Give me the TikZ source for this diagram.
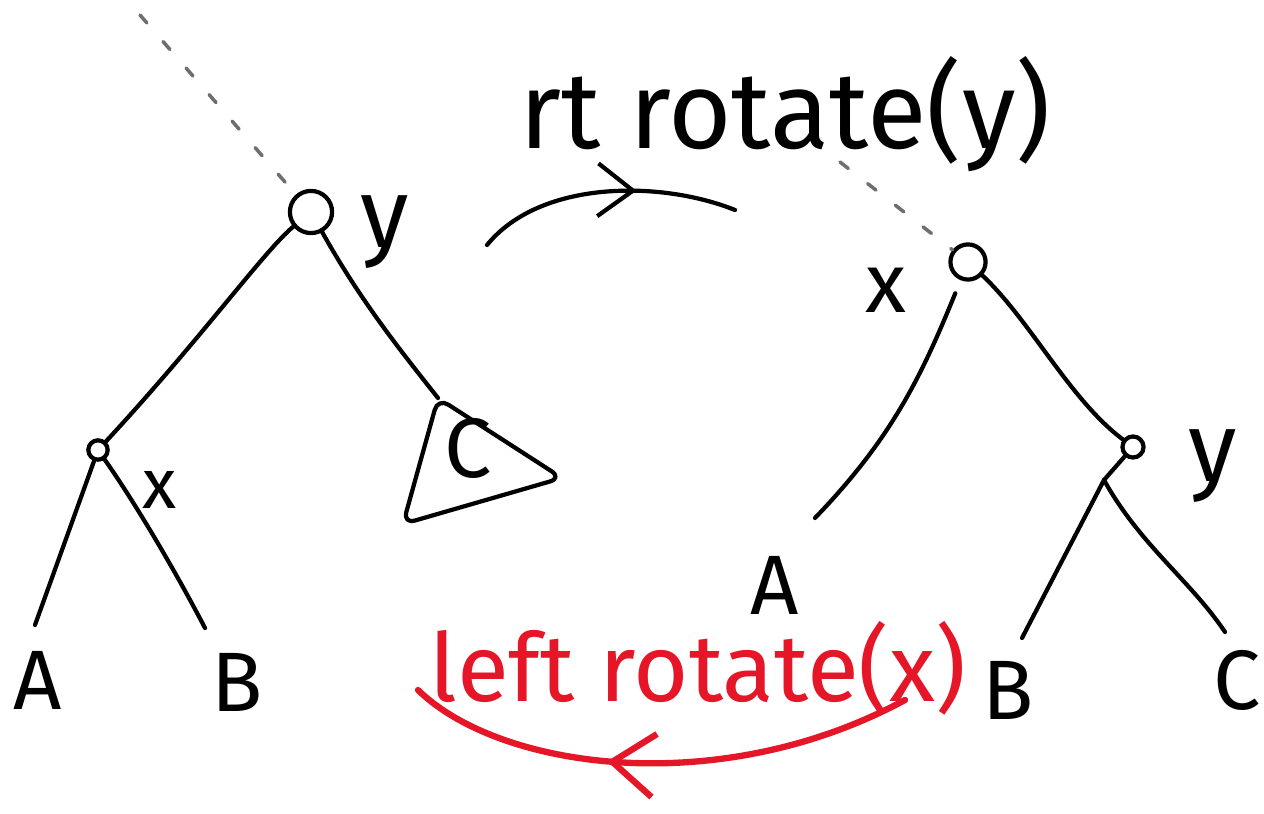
\documentclass[tikz,border=0pt]{standalone}
\usepackage{fontspec}
\setmainfont{Fira Sans}
\usetikzlibrary{arrows.meta,decorations.markings}
\definecolor{penred}{RGB}{228,22,40}
\definecolor{pengray}{RGB}{110,110,110}
\tikzset{
  ink/.style={line width=2.4pt, line cap=round, line join=round, black},
  redink/.style={line width=3.6pt, line cap=round, line join=round, penred},
  dots/.style={line width=2pt, pengray, dash pattern=on 6pt off 14pt, line cap=round},
  vtx/.style={draw, circle, line width=2.4pt, inner sep=0pt},
  bigvtx/.style={vtx, minimum size=24pt},
  smallvtx/.style={vtx, minimum size=11pt},
  leaf/.style={inner sep=0pt, font=\fontsize{48}{54}\selectfont},
  tag/.style={inner sep=0pt, font=\fontsize{56}{62}\selectfont},
  smalltag/.style={inner sep=0pt, font=\fontsize{40}{46}\selectfont},
  caption/.style={inner sep=0pt, font=\fontsize{62}{70}\selectfont},
  redcaption/.style={inner sep=0pt, text=penred, font=\fontsize{54}{60}\selectfont},
  barbfwd/.style={decoration={markings, mark=at position #1 with {\arrow[line width=2.4pt]{Straight Barb[length=20pt,width=30pt]}}}, postaction=decorate},
  barbback/.style={decoration={markings, mark=at position #1 with {\arrowreversed[line width=3.6pt]{Straight Barb[length=24pt,width=36pt]}}}, postaction=decorate}
}
\begin{document}
\begin{tikzpicture}[x=0.02cm, y=-0.02cm]
\useasboundingbox (0,0) rectangle (1264,814);

% ---------- tree before the rotation ----------
\coordinate (lparent) at (140,15);
\node[bigvtx] (ly) at (311,212) {};
\node[tag] (lylab) at (385,232) {y};
\node[smallvtx] (lx) at (98,450) {};
\node[smalltag] (lxlab) at (160,490) {x};
\coordinate (lAend) at (35,625);
\coordinate (lBend) at (205,628);
\node[leaf] (lA) at (38,680) {A};
\node[leaf] (lB) at (237,682) {B};
\coordinate (ltri) at (438,398);
\coordinate (ltriR) at (562,478);
\coordinate (ltriL) at (403,524);
\node[leaf] (lC) at (468,448) {C};

\draw[dots] (lparent) -- (ly);
\draw[ink] (ly) .. controls (265,250) and (200,340) .. (lx);
\draw[ink] (ly) .. controls (360,300) and (400,350) .. (ltri);
\draw[ink, rounded corners=7pt] (ltri) -- (ltriR) -- (ltriL) -- cycle;
\draw[ink] (lx) -- (lAend);
\draw[ink] (lx) .. controls (140,510) and (180,580) .. (lBend);

% ---------- right rotation arrow ----------
\node[caption] (rtcap) at (785,114) {rt rotate(y)};
\coordinate (rtstart) at (487,245);
\coordinate (rtend) at (735,210);
\draw[ink, barbfwd=0.62] (rtstart) .. controls (540,180) and (660,180) .. (rtend);

% ---------- tree after the rotation ----------
\coordinate (rparent) at (840,162);
\node[vtx, minimum size=20pt] (rx) at (968,262) {};
\node[tag, font=\fontsize{48}{54}\selectfont] (rxlab) at (886,290) {x};
\node[smallvtx, minimum size=12pt] (ry) at (1133,447) {};
\node[tag] (rylab) at (1213,466) {y};
\coordinate (rAend) at (815,518);
\node[leaf] (rA) at (775,585) {A};
\coordinate (rfork) at (1104,480);
\coordinate (rBend) at (1022,638);
\coordinate (rCend) at (1225,632);
\node[leaf] (rB) at (1008,690) {B};
\node[leaf] (rC) at (1237,680) {C};

\draw[dots] (rparent) -- (rx);
\draw[ink, shorten <=8pt] (rx) .. controls (920,380) and (890,440) .. (rAend);
\draw[ink] (rx) .. controls (1030,320) and (1070,400) .. (ry);
\draw[ink] (ry) -- (rfork);
\draw[ink] (rfork) -- (rBend);
\draw[ink] (rfork) .. controls (1140,545) and (1190,580) .. (rCend);

% ---------- left rotation arrow ----------
\node[redcaption] (ltcap) at (698,668) {left rotate(x)};
\coordinate (ltstart) at (418,690);
\coordinate (ltend) at (905,700);
\draw[redink, barbback=0.4] (ltstart) .. controls (500,770) and (720,800) .. (ltend);
\end{tikzpicture}
\end{document}
